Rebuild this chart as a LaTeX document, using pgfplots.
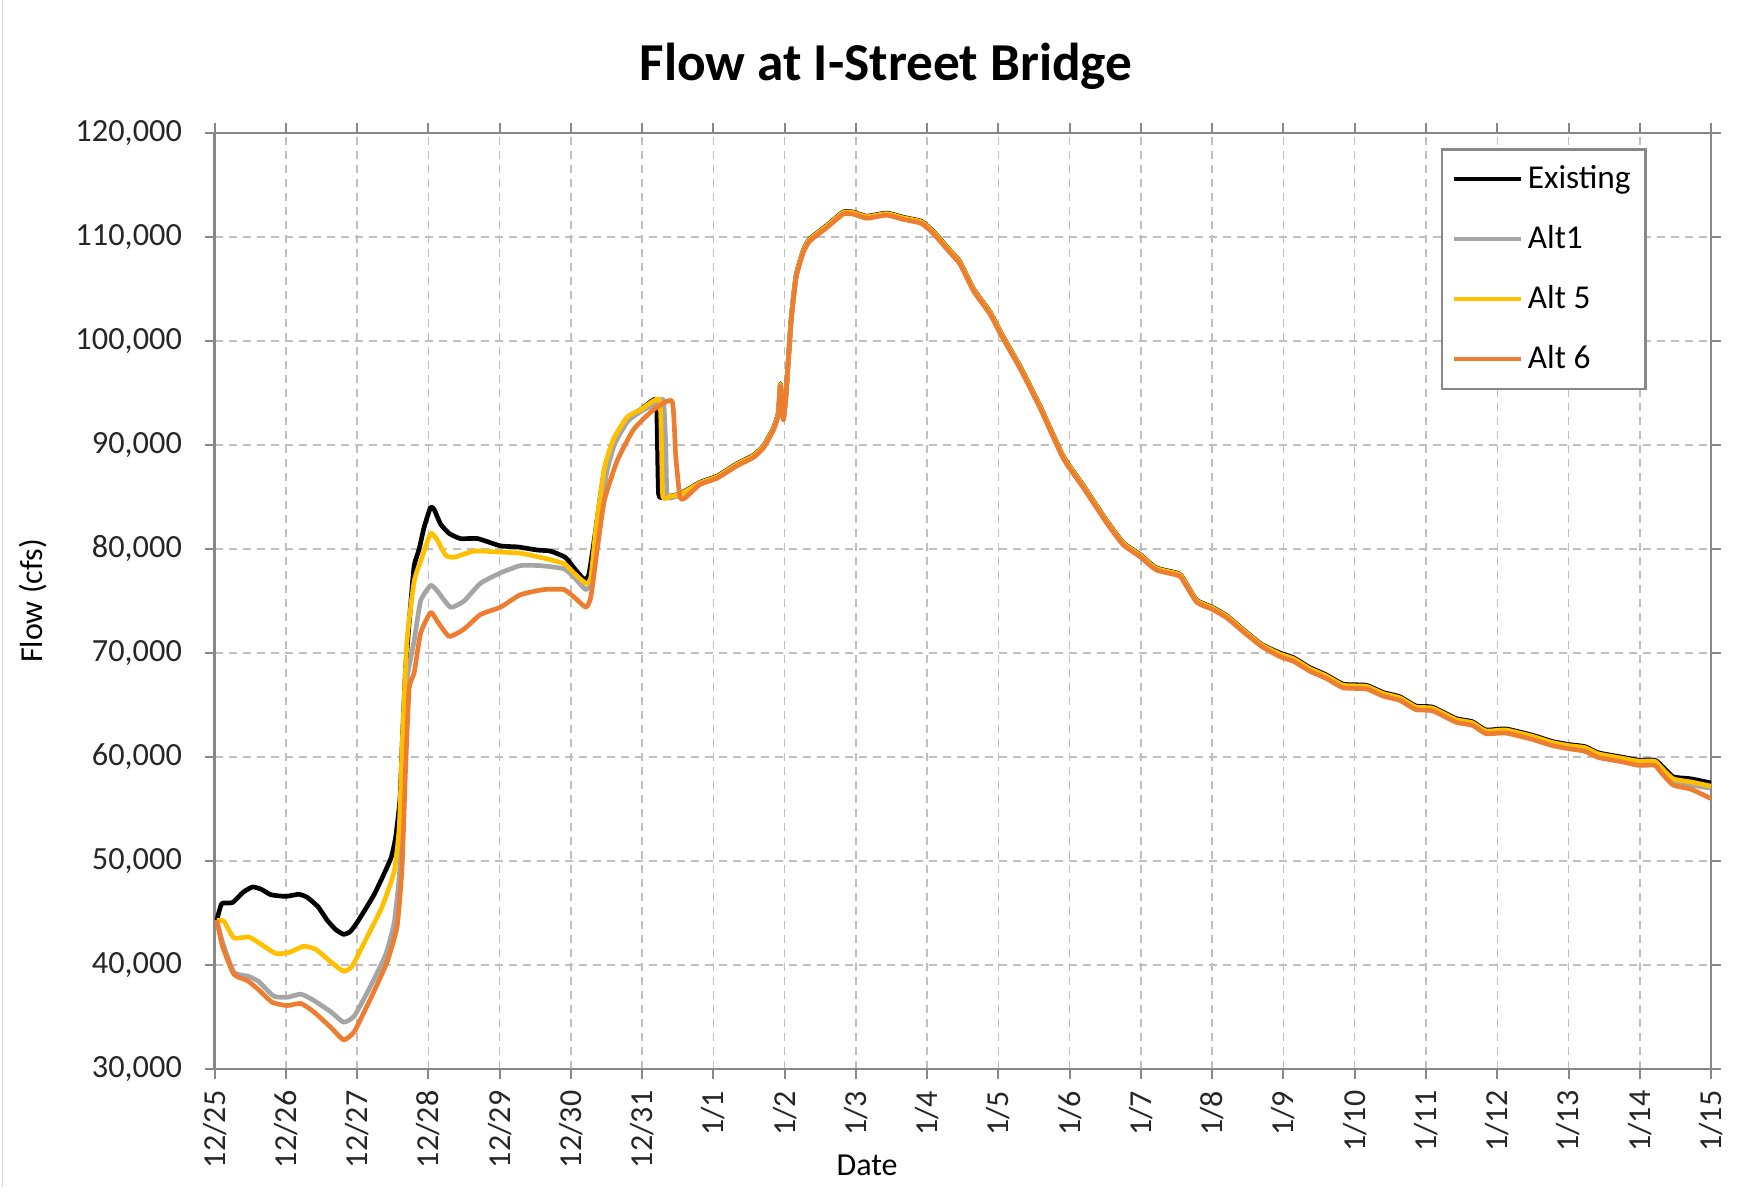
\documentclass[border=0pt]{standalone}
\usepackage{pgfplots}
\pgfplotsset{compat=1.18}
\usepackage{fontspec}
\setmainfont{Carlito}
\definecolor{altgray}{HTML}{A5A5A5}
\definecolor{altyel}{HTML}{FFC000}
\definecolor{altor}{HTML}{ED7D31}
\definecolor{axgray}{HTML}{888888}
\definecolor{gridgray}{HTML}{BFBFBF}
\begin{document}
\begin{tikzpicture}
\path[use as bounding box] (-64.4pt,-37.8pt) rectangle (456.7pt,320.7pt);
\draw[gray!35, line width=0.5pt] (-63.6pt,320.7pt) -- (-63.6pt,-35.5pt);
\begin{axis}[
  at={(0pt,0pt)}, anchor=south west,
  scale only axis, width=448.9pt, height=280.8pt,
  xmin=0, xmax=21, ymin=30000, ymax=120000,
  xtick={0,...,21},
  xticklabels={12/25,12/26,12/27,12/28,12/29,12/30,12/31,1/1,1/2,1/3,1/4,1/5,1/6,1/7,1/8,1/9,1/10,1/11,1/12,1/13,1/14,1/15},
  ytick={30000,40000,...,120000},
  scaled y ticks=false,
  yticklabel style={/pgf/number format/fixed, /pgf/number format/1000 sep={,}, /pgf/number format/assume math mode=true, font=\fontsize{9.7}{11}\selectfont, color=black!85, xshift=-3.3pt},
  xticklabel style={rotate=90, anchor=east, font=\fontsize{9.6}{11}\selectfont, color=black!85},
  tick align=outside, major tick length=3pt,
  tick style={axgray, line width=0.6pt},
  axis line style={axgray, line width=0.8pt},
  grid=major,
  major grid style={gridgray, line width=0.45pt, dash pattern=on 2.4pt off 1.8pt},
  xlabel={Date}, ylabel={Flow (cfs)},
  xlabel style={at={(axis description cs:0.436,-0.103)}, anchor=center, font=\fontsize{9.6}{11}\selectfont},
  ylabel style={at={(axis description cs:-0.1214,0.5)}, anchor=center, font=\fontsize{9.6}{11}\selectfont},
  legend style={at={(rel axis cs:0.957,0.984)}, anchor=north east, draw=axgray, line width=0.8pt,
     font=\fontsize{10}{12}\selectfont, row sep=5.5pt, inner xsep=2.9pt, inner ysep=2.7pt,
     nodes={inner sep=1.5pt, text height=7.5pt, text depth=2pt}},
  legend cell align=left,
  legend image code/.code={\draw[#1, line width=1.4pt] (0pt,0pt) -- (20pt,0pt);},
  every axis plot/.append style={line width=1.4pt, line join=round, smooth, tension=0.3},
]
% Existing
\addplot[black] coordinates {
(0.03,44300) (0.1,45900) (0.25,46000) (0.4,47000) (0.53,47500) (0.65,47300) (0.79,46750) (1.0,46600) (1.18,46800) (1.3,46500) (1.45,45600) (1.58,44300) (1.7,43400) (1.81,42950) (1.9,43200) (2.0,44100) (2.24,46800) (2.47,50200) (2.54,52300) (2.6,55900) (2.63,60900) (2.68,68500) (2.75,74600) (2.80,78400) (2.87,80000) (2.94,82100) (3.03,84000) (3.08,83800) (3.17,82400) (3.29,81500) (3.45,81000) (3.69,81000) (4.01,80300) (4.25,80200) (4.53,79900) (4.71,79800) (4.92,79200) (5.04,78200) (5.18,77100) (5.25,77500) (5.33,81000) (5.47,87600) (5.6,90500) (5.79,92600) (5.98,93400) (6.19,94400) (6.21,91800) (6.23,85300) (6.3,85000) (6.4,85100)
(6.53,85300) (6.81,86400) (7.05,87000) (7.33,88200) (7.56,89000) (7.70,89900) (7.84,91600) (7.91,93100) (7.94,95900) (7.98,92600) (8.02,95100) (8.09,102100) (8.16,106300) (8.26,108700) (8.35,109800) (8.59,111100) (8.82,112400) (8.96,112400) (9.15,112000) (9.43,112300) (9.66,111900) (9.92,111500) (10.09,110500) (10.32,108700) (10.46,107600) (10.65,105000) (10.88,102800) (11.05,100600) (11.30,97600) (11.58,93800) (11.91,88900) (12.19,86100) (12.51,82800) (12.75,80600) (12.98,79500) (13.21,78200) (13.5,77700) (13.57,77400) (13.78,75100) (14.0,74400) (14.2,73600) (14.46,72100) (14.7,70800) (14.95,70000) (15.14,69550) (15.37,68600) (15.6,67900) (15.84,67000) (16.16,66900) (16.4,66200) (16.63,65800) (16.86,64900) (17.09,64800) (17.42,63700) (17.65,63400) (17.84,62600) (18.12,62700) (18.49,62100) (18.77,61500) (19.0,61200) (19.23,61000) (19.42,60400) (19.74,60000) (19.98,59700) (20.21,59700) (20.3,59200) (20.47,58100) (20.72,57900) (21,57500)
};
\addlegendentry{Existing}
% Alt1
\addplot[altgray] coordinates {
(0.03,44300) (0.11,42200) (0.27,39300) (0.48,38900) (0.62,38400) (0.83,37000) (1.02,36900) (1.21,37200) (1.39,36600) (1.63,35500) (1.81,34500) (1.96,35100) (2.19,38000) (2.4,41000) (2.52,44100) (2.6,49400) (2.64,59000) (2.70,67400) (2.80,71200) (2.89,75000) (3.03,76500) (3.12,76000) (3.31,74400) (3.5,75000) (3.73,76700) (4.01,77700) (4.29,78400) (4.57,78400) (4.9,78100) (5.04,77300) (5.21,76100) (5.3,76900) (5.37,81100) (5.5,87300) (5.62,90200) (5.8,92300) (6.0,93300) (6.22,94100) (6.3,94300) (6.33,90000) (6.35,85100) (6.45,85000)
(6.53,85200) (6.81,86300) (7.05,86900) (7.33,88100) (7.56,88900) (7.70,89800) (7.84,91500) (7.91,93000) (7.94,95800) (7.98,92500) (8.02,95000) (8.09,102000) (8.16,106200) (8.26,108600) (8.35,109700) (8.59,111000) (8.82,112300) (8.96,112300) (9.15,111900) (9.43,112200) (9.66,111800) (9.92,111400) (10.09,110400) (10.32,108600) (10.46,107500) (10.65,104900) (10.88,102700) (11.05,100500) (11.30,97500) (11.58,93700) (11.91,88800) (12.19,86000) (12.51,82700) (12.75,80500) (12.98,79400) (13.21,78100) (13.5,77600) (13.57,77300) (13.78,75000) (14.0,74300) (14.2,73500) (14.46,72000) (14.7,70700) (14.95,69800) (15.14,69350) (15.37,68400) (15.6,67700) (15.84,66800) (16.16,66700) (16.4,66000) (16.63,65600) (16.86,64700) (17.09,64600) (17.42,63500) (17.65,63200) (17.84,62400) (18.12,62500) (18.49,61900) (18.77,61300) (19.0,61000) (19.23,60800) (19.42,60200) (19.74,59800) (19.98,59500) (20.21,59500) (20.3,58900) (20.47,57700) (20.72,57300) (21,57000)
};
\addlegendentry{Alt1}
% Alt 5
\addplot[altyel] coordinates {
(0.03,44300) (0.13,44200) (0.27,42600) (0.48,42700) (0.65,42000) (0.86,41100) (1.04,41200) (1.25,41800) (1.42,41500) (1.63,40300) (1.81,39400) (1.93,39900) (2.14,42700) (2.35,45600) (2.52,49000) (2.59,53200) (2.63,60900) (2.70,71200) (2.80,76900) (2.91,79200) (3.03,81500) (3.12,80900) (3.24,79400) (3.36,79200) (3.64,79800) (4.01,79700) (4.29,79600) (4.57,79200) (4.9,78600) (5.04,77700) (5.21,76700) (5.28,77300) (5.35,81900) (5.47,87800) (5.6,90600) (5.79,92700) (5.98,93400) (6.24,94400) (6.27,90000) (6.29,85000) (6.4,85100)
(6.53,85250) (6.81,86350) (7.05,86950) (7.33,88150) (7.56,88950) (7.70,89850) (7.84,91550) (7.91,93050) (7.94,95850) (7.98,92550) (8.02,95050) (8.09,102050) (8.16,106250) (8.26,108650) (8.35,109750) (8.59,111050) (8.82,112350) (8.96,112350) (9.15,111950) (9.43,112250) (9.66,111850) (9.92,111450) (10.09,110450) (10.32,108650) (10.46,107550) (10.65,104950) (10.88,102750) (11.05,100550) (11.30,97550) (11.58,93750) (11.91,88850) (12.19,86050) (12.51,82750) (12.75,80550) (12.98,79450) (13.21,78150) (13.5,77650) (13.57,77350) (13.78,75050) (14.0,74350) (14.2,73550) (14.46,72050) (14.7,70750) (14.95,69900) (15.14,69450) (15.37,68500) (15.6,67800) (15.84,66900) (16.16,66800) (16.4,66100) (16.63,65700) (16.86,64800) (17.09,64700) (17.42,63600) (17.65,63300) (17.84,62500) (18.12,62600) (18.49,62000) (18.77,61400) (19.0,61100) (19.23,60900) (19.42,60300) (19.74,59900) (19.98,59600) (20.21,59600) (20.3,59000) (20.47,57900) (20.72,57600) (21,57200)
};
\addlegendentry{Alt 5}
% Alt 6
\addplot[altor] coordinates {
(0.03,44300) (0.11,41800) (0.27,39100) (0.46,38500) (0.62,37600) (0.81,36400) (1.02,36100) (1.21,36300) (1.39,35500) (1.63,34000) (1.81,32800) (1.96,33600) (2.19,36800) (2.42,40300) (2.56,43700) (2.63,49400) (2.68,59000) (2.73,66600) (2.80,68100) (2.89,71900) (3.03,73900) (3.12,73100) (3.29,71600) (3.5,72300) (3.73,73700) (4.01,74400) (4.29,75600) (4.62,76100) (4.9,76100) (5.04,75400) (5.21,74400) (5.28,75400) (5.37,80000) (5.47,84700) (5.65,88500) (5.88,91500) (6.16,93400) (6.42,94200) (6.47,89000) (6.53,85000) (6.6,84900)
(6.81,86200) (7.05,86800) (7.33,88000) (7.56,88800) (7.70,89700) (7.84,91400) (7.91,92900) (7.94,95700) (7.98,92400) (8.02,94900) (8.09,101900) (8.16,106100) (8.26,108500) (8.35,109600) (8.59,110900) (8.82,112200) (8.96,112200) (9.15,111800) (9.43,112100) (9.66,111700) (9.92,111300) (10.09,110300) (10.32,108500) (10.46,107400) (10.65,104800) (10.88,102600) (11.05,100400) (11.30,97400) (11.58,93600) (11.91,88700) (12.19,85900) (12.51,82600) (12.75,80400) (12.98,79300) (13.21,78000) (13.5,77500) (13.57,77200) (13.78,74900) (14.0,74200) (14.2,73400) (14.46,71900) (14.7,70600) (14.95,69650) (15.14,69200) (15.37,68250) (15.6,67550) (15.84,66650) (16.16,66550) (16.4,65850) (16.63,65450) (16.86,64550) (17.09,64450) (17.42,63350) (17.65,63050) (17.84,62250) (18.12,62300) (18.49,61700) (18.77,61100) (19.0,60800) (19.23,60550) (19.42,59950) (19.74,59550) (19.98,59200) (20.21,59200) (20.3,58500) (20.47,57300) (20.72,56900) (21,56000)
};
\addlegendentry{Alt 6}
\end{axis}
\node[font=\fontsize{16}{19}\selectfont\bfseries] at (201.4pt,300.9pt) {Flow at I-Street Bridge};
\end{tikzpicture}
\end{document}
